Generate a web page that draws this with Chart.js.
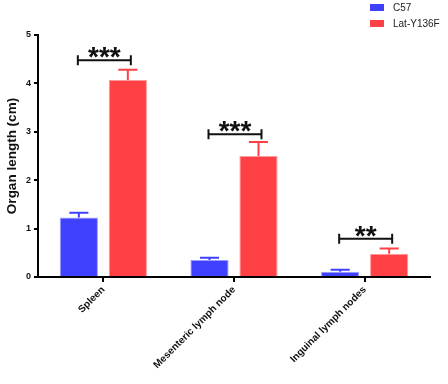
<!DOCTYPE html>
<html>
<head>
<meta charset="utf-8">
<script src="https://cdn.jsdelivr.net/npm/chart.js@4"></script>
<style>
  html, body { margin: 0; padding: 0; background: #fff; }
  #wrap { width: 448px; height: 384px; }
</style>
</head>
<body>
<div id="wrap"><canvas id="organ-canvas" width="448" height="384"></canvas></div>
<script>
    var organs = ['Spleen', 'Mesenteric lymph node', 'Inguinal lymph nodes'];
    var seriesNames = ['C57', 'Lat-Y136F'];
    var c57Values = [1.23, 0.35, 0.11];
    var c57Errors = [0.10, 0.05, 0.04];
    var latValues = [4.07, 2.50, 0.48];
    var latErrors = [0.21, 0.29, 0.11];
    var sigLevels = [4.48, 2.95, 0.79];
    var sigLabels = ['***', '***', '**'];
    var yTicks = [0, 1, 2, 3, 4, 5];

    var blue = '#4040ff';
    var red = '#ff4044';
    var fontName = '"Liberation Sans", Arial, sans-serif';

    // error bars (upper only) + significance brackets
    var extrasPlugin = {
        id: 'extras',
        afterDatasetsDraw: function(chart) {
            var ctx = chart.ctx;
            var yScale = chart.scales.y;
            var errs = [c57Errors, latErrors];
            ctx.save();
            chart.data.datasets.forEach(function(ds, di) {
                var meta = chart.getDatasetMeta(di);
                meta.data.forEach(function(bar, i) {
                    var top = yScale.getPixelForValue(ds.data[i] + errs[di][i]);
                    var half = bar.width / 4;
                    ctx.strokeStyle = ds.backgroundColor;
                    ctx.lineWidth = 2;
                    ctx.beginPath();
                    ctx.moveTo(bar.x, bar.y);
                    ctx.lineTo(bar.x, top);
                    ctx.moveTo(bar.x - half, top);
                    ctx.lineTo(bar.x + half, top);
                    ctx.stroke();
                });
            });
            var m0 = chart.getDatasetMeta(0), m1 = chart.getDatasetMeta(1);
            for (var i = 0; i < sigLevels.length; i++) {
                var x1 = m0.data[i].x - 1, x2 = m1.data[i].x + 3;
                var y = yScale.getPixelForValue(sigLevels[i]);
                ctx.strokeStyle = '#111';
                ctx.lineWidth = 2;
                ctx.beginPath();
                ctx.moveTo(x1, y); ctx.lineTo(x2, y);
                ctx.moveTo(x1, y - 5); ctx.lineTo(x1, y + 5);
                ctx.moveTo(x2, y - 5); ctx.lineTo(x2, y + 5);
                ctx.stroke();
                ctx.fillStyle = '#111';
                ctx.font = 'bold 28px ' + fontName;
                ctx.textAlign = 'center';
                ctx.textBaseline = 'alphabetic';
                ctx.fillText(sigLabels[i], (x1 + x2) / 2, y + 6);
            }
            // legend, top right
            ctx.font = '10px ' + fontName;
            ctx.textBaseline = 'middle';
            ctx.textAlign = 'left';
            chart.data.datasets.forEach(function(ds, di) {
                var ly = 4 + di * 16;
                ctx.fillStyle = ds.backgroundColor;
                ctx.fillRect(370, ly, 14, 7);
                ctx.fillStyle = '#222';
                ctx.fillText(ds.label, 393, ly + 4);
            });
            ctx.restore();
        }
    };

    var ctx = document.getElementById('organ-canvas').getContext('2d');
    var chartObj = new Chart(ctx, {
        type: 'bar',
        data: {
            labels: organs,
            datasets: [{
                label: seriesNames[0],
                data: c57Values,
                backgroundColor: blue,
                borderColor: '#9a9aff',
                borderWidth: 1,
                borderSkipped: 'bottom'
            }, {
                label: seriesNames[1],
                data: latValues,
                backgroundColor: red,
                borderColor: '#ff9a9c',
                borderWidth: 1,
                borderSkipped: 'bottom'
            }]
        },
        options: {
            responsive: false,
            animation: false,
            categoryPercentage: 0.75,
            barPercentage: 0.78,
            layout: { padding: { top: 35, right: 18, left: 0, bottom: 0 } },
            plugins: {
                legend: { display: false },
                tooltip: { enabled: false }
            },
            scales: {
                x: {
                    border: { display: true, color: '#000', width: 2 },
                    grid: {
                        offset: false,
                        drawOnChartArea: false,
                        drawTicks: true,
                        tickLength: 5,
                        color: '#000',
                        lineWidth: 2
                    },
                    ticks: {
                        minRotation: 45,
                        maxRotation: 45,
                        color: '#111',
                        padding: 2,
                        font: { family: fontName, size: 10, weight: 'bold' }
                    },
                    afterFit: function(scale) { scale.height = 107; }
                },
                y: {
                    min: 0,
                    max: 5,
                    afterBuildTicks: function(scale) {
                        scale.ticks = yTicks.map(function(v) { return { value: v }; });
                    },
                    border: { display: true, color: '#000', width: 2 },
                    grid: {
                        drawOnChartArea: false,
                        drawTicks: true,
                        tickLength: 4,
                        color: '#000',
                        lineWidth: 2
                    },
                    ticks: {
                        color: '#111',
                        padding: 3,
                        font: { family: fontName, size: 9, weight: 'bold' }
                    },
                    title: {
                        display: true,
                        text: 'Organ length (cm)',
                        color: '#111',
                        padding: { top: 4, bottom: 0 },
                        font: { family: fontName, size: 13.5, weight: 'bold' }
                    },
                    afterFit: function(scale) { scale.width = 38; }
                }
            }
        },
        plugins: [extrasPlugin]
    });
</script>
</body>
</html>
